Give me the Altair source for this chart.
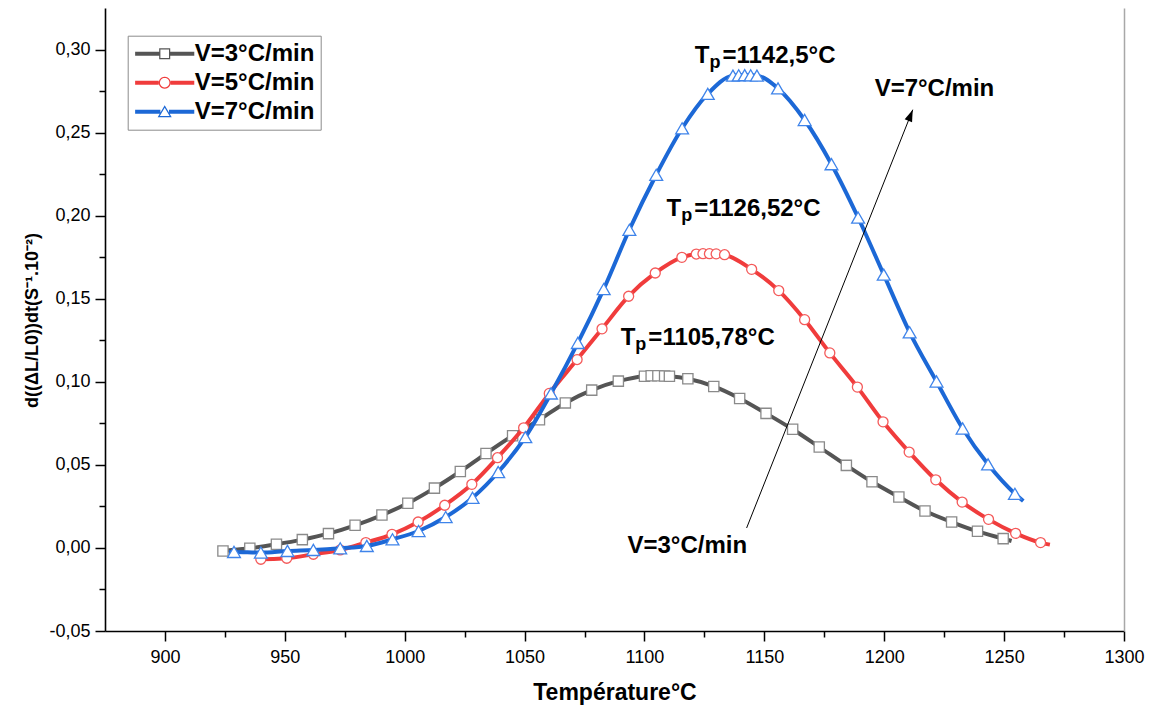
import math
import altair as alt
import pandas as pd

# ---------------- data ----------------
series_names = ["V=3°C/min", "V=5°C/min", "V=7°C/min"]

temp_3 = [924.2, 935.4, 946.5, 957.3, 968.2, 979.3, 990.5, 1001.3, 1012.4, 1023.2,
          1033.9, 1045.0, 1056.2, 1067.0, 1078.0, 1089.1, 1100.0, 1102.8, 1105.6, 1108.4,
          1110.4, 1118.1, 1128.9, 1139.7, 1150.7, 1161.8, 1172.9, 1184.2, 1194.9, 1206.1,
          1217.0, 1228.1, 1238.9, 1249.6]
val_3 = [-0.0018, -0.0002, 0.0022, 0.0050, 0.0086, 0.0136, 0.0198, 0.0269, 0.0360, 0.0460,
         0.0568, 0.0675, 0.0772, 0.0873, 0.0950, 0.1004, 0.1034, 0.1036, 0.1036, 0.1035,
         0.1033, 0.1018, 0.0972, 0.0900, 0.0810, 0.0714, 0.0607, 0.0497, 0.0398, 0.0307,
         0.0222, 0.0156, 0.0100, 0.0056]

temp_5 = [940.0, 950.8, 961.9, 973.1, 983.8, 994.7, 1005.6, 1016.7, 1028.0, 1038.7,
          1049.6, 1060.3, 1071.9, 1082.3, 1093.4, 1104.5, 1115.6, 1121.6, 1124.4, 1127.1,
          1129.9, 1133.4, 1144.7, 1156.0, 1166.8, 1177.3, 1188.8, 1199.5, 1210.4, 1221.5,
          1232.5, 1243.5, 1254.8, 1265.2]
val_5 = [-0.0068, -0.0062, -0.0038, -0.0012, 0.0032, 0.0082, 0.0156, 0.0257, 0.0383, 0.0543,
         0.0723, 0.0930, 0.1134, 0.1319, 0.1515, 0.1655, 0.1749, 0.1769, 0.1771, 0.1771,
         0.1770, 0.1765, 0.1677, 0.1549, 0.1374, 0.1174, 0.0968, 0.0759, 0.0577, 0.0410,
         0.0276, 0.0172, 0.0088, 0.0032]

temp_7 = [928.8, 940.0, 951.1, 961.9, 973.1, 984.2, 994.9, 1005.8, 1017.1, 1028.3,
          1039.0, 1050.3, 1061.0, 1072.2, 1083.0, 1093.7, 1104.9, 1115.7, 1126.4, 1136.9,
          1139.3, 1141.8, 1144.3, 1146.9, 1155.7, 1166.8, 1178.0, 1189.1, 1199.8, 1210.6,
          1221.8, 1232.7, 1243.3, 1254.5]
val_7 = [-0.0024, -0.0028, -0.0018, -0.0012, -0.0002, 0.0012, 0.0052, 0.0102, 0.0186, 0.0302,
         0.0457, 0.0667, 0.0930, 0.1234, 0.1558, 0.1915, 0.2246, 0.2526, 0.2733, 0.2843,
         0.2845, 0.2846, 0.2845, 0.2843, 0.2766, 0.2576, 0.2310, 0.1989, 0.1645, 0.1298,
         0.1002, 0.0719, 0.0503, 0.0326]

# line ends beyond the first / last symbol
line_head_T = [923.5, 938.0, 926.7]
line_head_v = [-0.0019, -0.0066, -0.0024]
line_tail_T = [1253.1, 1269.1, 1258.0]
line_tail_v = [0.0042, 0.0020, 0.0282]

# peak annotations
peak_T = [1127.1, 1115.3, 1096.2]
peak_v = [0.2917, 0.2001, 0.1220]
peak_text = ["=1142,5°C", "=1126,52°C", "=1105,78°C"]

# heating-rate labels and arrow
rate_T = [1196.0, 1092.9]
rate_v = [0.2723, -0.0028]
rate_text = ["V=7°C/min", "V=3°C/min"]
arrow_from = [1142.6, 0.0120]
arrow_to = [1211.9, 0.2638]

x_ticks = [900, 950, 1000, 1050, 1100, 1150, 1200, 1250, 1300]
x_minor = [925, 975, 1025, 1075, 1125, 1175, 1225, 1275]
y_ticks = [-0.05, 0.0, 0.05, 0.10, 0.15, 0.20, 0.25, 0.30]
y_minor = [-0.025, 0.025, 0.075, 0.125, 0.175, 0.225, 0.275]

# ---------------- styles ----------------
line_colors = ["#555555", "#f03c3c", "#1c68d6"]
marker_strokes = ["#8a8a8a", "#f45a5a", "#3f84ea"]
marker_shapes = ["square", "circle", "triangle-up"]
marker_sizes = [105, 100, 165]
FONT = "Liberation Sans"

temps = [temp_3, temp_5, temp_7]
vals = [val_3, val_5, val_7]

pts_rows, line_rows = [], []
for i, name in enumerate(series_names):
    line_rows.append({"series": name, "T": line_head_T[i], "v": line_head_v[i], "o": 0})
    for k, (t, v) in enumerate(zip(temps[i], vals[i])):
        pts_rows.append({"series": name, "T": t, "v": v})
        line_rows.append({"series": name, "T": t, "v": v, "o": k + 1})
    line_rows.append({"series": name, "T": line_tail_T[i], "v": line_tail_v[i], "o": 999})
pts = pd.DataFrame(pts_rows)
lines = pd.DataFrame(line_rows)
ann = pd.DataFrame({"T": peak_T, "v": peak_v, "rest": peak_text})
rates = pd.DataFrame({"T": rate_T, "v": rate_v, "label": rate_text})
arrow = pd.DataFrame({"T": [arrow_from[0]], "v": [arrow_from[1]],
                      "T2": [arrow_to[0]], "v2": [arrow_to[1]]})
arrow_tip = pd.DataFrame({"T": [arrow_to[0]], "v": [arrow_to[1]]})
legend_df = pd.DataFrame({"series": series_names})

XS = alt.Scale(domain=[875, 1300], nice=False, zero=False)
YS = alt.Scale(domain=[-0.05, 0.325], nice=False, zero=False)


def X(axis=None):
    return alt.X("T:Q", scale=XS, axis=axis)


def Y(axis=None):
    return alt.Y("v:Q", scale=YS, axis=axis)


x_major_axis = alt.Axis(values=x_ticks, orient="bottom", grid=False, title="Température°C",
                        format="d",
                        domainColor="black", domainWidth=1.6, tickColor="black", tickWidth=1.5,
                        tickSize=10, labelFontSize=18, labelColor="black", labelPadding=7,
                        labelFlush=False, labelOverlap=False, titleFontSize=23,
                        titleFontWeight="bold", titleColor="black", titleY=68,
                        titleBaseline="alphabetic")
y_major_axis = alt.Axis(values=y_ticks, orient="left", grid=False,
                        title="d((ΔL/L0))dt(S⁻¹.10⁻²)",
                        labelExpr="replace(replace(format(datum.value, '.2f'), '.', ','), '\u2212', '-')",
                        domainColor="black", domainWidth=1.6, tickColor="black", tickWidth=1.5,
                        tickSize=10, labelFontSize=18, labelColor="black", labelPadding=5,
                        labelOverlap=False, titleFontSize=18, titleFontWeight="bold",
                        titleColor="black", titleX=-68, titleY=312, titleAlign="center",
                        titleBaseline="alphabetic")
x_minor_axis = alt.Axis(values=x_minor, orient="bottom", grid=False, labels=False, title=None,
                        domain=False, tickColor="black", tickWidth=1.5, tickSize=6)
y_minor_axis = alt.Axis(values=y_minor, orient="left", grid=False, labels=False, title=None,
                        domain=False, tickColor="black", tickWidth=1.5, tickSize=6)
y_right_axis = alt.Axis(orient="right", grid=False, labels=False, ticks=False, title=None,
                        domainColor="#a8a8a8", domainWidth=1.5)

# ---------------- legend symbol paths (line + hollow marker) ----------------
def rect(x0, x1, h):
    return f"M{x0:.3f},{-h:.3f}H{x1:.3f}V{h:.3f}H{x0:.3f}Z"


def poly(points):
    return "M" + "L".join(f"{px:.3f},{py:.3f}" for px, py in points) + "Z"


LH = 0.31
LL = 4.55
sq = (rect(-LL, -0.85, LH) + rect(0.85, LL, LH)
      + poly([(-0.85, -0.85), (0.85, -0.85), (0.85, 0.85), (-0.85, 0.85)])
      + poly([(-0.66, -0.66), (-0.66, 0.66), (0.66, 0.66), (0.66, -0.66)]))
n = 24
outer = [(0.92 * math.cos(2 * math.pi * k / n), 0.92 * math.sin(2 * math.pi * k / n)) for k in range(n)]
inner = [(0.73 * math.cos(2 * math.pi * k / n), 0.73 * math.sin(2 * math.pi * k / n)) for k in range(n)][::-1]
ci = rect(-LL, -0.92, LH) + rect(0.92, LL, LH) + poly(outer) + poly(inner)
tri = (rect(-LL, -0.66, LH) + rect(0.66, LL, LH)
       + poly([(0, -1.0), (1.08, 0.87), (-1.08, 0.87)])
       + poly([(0, -0.62), (-0.75, 0.68), (0.75, 0.68)]))
legend_paths = [sq, ci, tri]

# ---------------- layers ----------------
layers = []
axis_sets = [
    (x_major_axis, y_major_axis),
    (x_minor_axis, y_minor_axis),
    (None, y_right_axis),
]
ai = 0
for i, name in enumerate(series_names):
    xa, ya = axis_sets[ai] if ai < len(axis_sets) else (None, None)
    ai += 1
    ln = alt.Chart(lines).transform_filter(alt.datum.series == name).mark_line(
        color=line_colors[i], strokeWidth=4, interpolate="monotone"
    ).encode(x=X(xa), y=Y(ya), order="o:Q")
    xa, ya = axis_sets[ai] if ai < len(axis_sets) else (None, None)
    ai += 1
    mk = alt.Chart(pts).transform_filter(alt.datum.series == name).mark_point(
        shape=marker_shapes[i], size=marker_sizes[i], filled=False, fill="white",
        stroke=marker_strokes[i], strokeWidth=1.3, opacity=1
    ).encode(x=X(xa), y=Y(ya))
    layers += [ln, mk]

rule = alt.Chart(arrow).mark_rule(color="black", strokeWidth=1).encode(
    x=X(), y=Y(), x2="T2:Q", y2="v2:Q")
head = alt.Chart(arrow_tip).mark_point(
    shape="M0,0L-0.33,1L0.33,1Z", size=576, filled=True, color="black", opacity=1,
    angle=21.6
).encode(x=X(), y=Y())

t_T = alt.Chart(ann).mark_text(text="T", align="right", baseline="alphabetic", fontSize=24,
                               fontWeight="bold", color="black").encode(x=X(), y=Y())
t_p = alt.Chart(ann).mark_text(text="p", align="left", baseline="alphabetic", fontSize=18,
                               fontWeight="bold", color="black", dy=5).encode(x=X(), y=Y())
t_rest = alt.Chart(ann).mark_text(align="left", baseline="alphabetic", fontSize=24,
                                  fontWeight="bold", color="black", dx=13).encode(
    x=X(), y=Y(), text="rest:N")
t_rate = alt.Chart(rates).mark_text(align="left", baseline="alphabetic", fontSize=24,
                                    fontWeight="bold", color="black").encode(
    x=X(), y=Y(), text="label:N")

leg = alt.Legend(title=None, orient="none", legendX=22.7, legendY=27.7, padding=6,
                 symbolOffset=19, labelOffset=18, symbolSize=169, symbolStrokeWidth=0,
                 symbolOpacity=1, labelFontSize=24, labelFontWeight="bold",
                 labelColor="black", labelLimit=400, rowPadding=5,
                 strokeColor="#8c8c8c", fillColor="white")
legend_layer = alt.Chart(legend_df).mark_point(filled=True, opacity=0).encode(
    color=alt.Color("series:N", scale=alt.Scale(domain=series_names, range=line_colors),
                    legend=leg),
    shape=alt.Shape("series:N", scale=alt.Scale(domain=series_names, range=legend_paths),
                    legend=leg),
)

chart = alt.layer(*layers, rule, head, t_T, t_p, t_rest, t_rate, legend_layer).resolve_axis(
    x="independent", y="independent"
).properties(
    width=1019, height=623,
    padding={"left": 105, "top": 8, "right": 32, "bottom": 83},
    autosize=alt.AutoSizeParams(type="none"),
    background="white",
).configure(font=FONT).configure_view(stroke=None)

chart.save("out.html", embed_options={"renderer": "svg", "actions": False})
